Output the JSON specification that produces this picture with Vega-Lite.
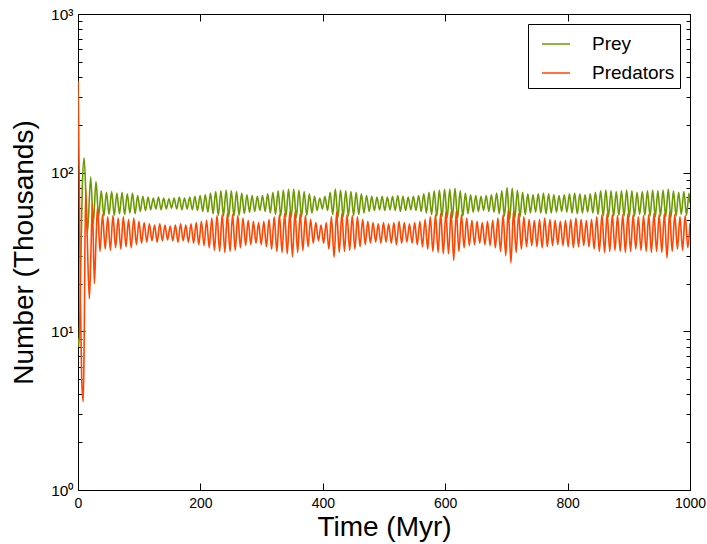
{
  "$schema": "https://vega.github.io/schema/vega-lite/v6.json",
  "width": 612,
  "height": 476,
  "autosize": {"type": "none"},
  "padding": {"left": 78, "top": 14, "right": 17, "bottom": 54},
  "background": "#ffffff",
  "datasets": {
    "prey": [
      {"t":0,"n":9},{"t":1.5,"n":8},{"t":4,"n":20},{"t":7,"n":80},{"t":10,"n":124},{"t":15.5,"n":42},{"t":20.7,"n":94},{"t":25,"n":48},{"t":29.4,"n":88},{"t":33.7,"n":53},
      {"t":38,"n":76.9},{"t":42.25,"n":53.2},{"t":46.5,"n":75.2},{"t":50.75,"n":54.5},{"t":55,"n":76.0},{"t":59.25,"n":53.8},{"t":63.5,"n":74.3},{"t":67.75,"n":55.1},{"t":72,"n":75.2},{"t":76.25,"n":54.5},
      {"t":80.5,"n":73.5},{"t":84.75,"n":55.7},{"t":89,"n":74.3},{"t":93.25,"n":55.1},{"t":97.5,"n":71.8},{"t":101.75,"n":57.0},{"t":106,"n":71.0},{"t":110.25,"n":57.7},{"t":114.5,"n":70.1},{"t":118.75,"n":58.3},
      {"t":123,"n":69.3},{"t":127.25,"n":59.0},{"t":131.5,"n":70.1},{"t":135.75,"n":58.3},{"t":140,"n":69.3},{"t":144.25,"n":59.0},{"t":148.5,"n":68.5},{"t":152.75,"n":59.7},{"t":157,"n":69.3},{"t":161.25,"n":59.0},
      {"t":165.5,"n":70.1},{"t":169.75,"n":58.3},{"t":174,"n":69.3},{"t":178.25,"n":59.0},{"t":182.5,"n":70.1},{"t":186.75,"n":58.3},{"t":191,"n":71.0},{"t":195.25,"n":57.7},{"t":199.5,"n":71.8},{"t":203.75,"n":57.0},
      {"t":208,"n":72.6},{"t":212.25,"n":56.4},{"t":216.5,"n":74.3},{"t":220.75,"n":55.1},{"t":225,"n":76.0},{"t":229.25,"n":53.8},{"t":233.5,"n":76.9},{"t":237.75,"n":53.2},{"t":242,"n":77.8},{"t":246.25,"n":52.6},
      {"t":250.5,"n":76.9},{"t":254.75,"n":53.2},{"t":259,"n":76.0},{"t":263.25,"n":53.8},{"t":267.5,"n":74.3},{"t":271.75,"n":55.1},{"t":276,"n":72.6},{"t":280.25,"n":56.4},{"t":284.5,"n":71.8},{"t":288.75,"n":57.0},
      {"t":293,"n":71.0},{"t":297.25,"n":57.7},{"t":301.5,"n":71.8},{"t":305.75,"n":57.0},{"t":310,"n":73.5},{"t":314.25,"n":55.7},{"t":318.5,"n":75.2},{"t":322.75,"n":54.5},{"t":327,"n":76.9},{"t":331.25,"n":53.2},
      {"t":335.5,"n":77.8},{"t":339.75,"n":52.6},{"t":344,"n":78.7},{"t":348.25,"n":52.0},{"t":352.5,"n":78.7},{"t":356.75,"n":52.0},{"t":361,"n":77.8},{"t":365.25,"n":52.6},{"t":369.5,"n":76.0},{"t":373.75,"n":53.8},
      {"t":378,"n":73.5},{"t":382.25,"n":55.7},{"t":386.5,"n":71.0},{"t":390.75,"n":57.7},{"t":395,"n":69.3},{"t":399.25,"n":59.0},{"t":403.5,"n":71.0},{"t":407.75,"n":57.7},{"t":412,"n":75.2},{"t":416.25,"n":54.5},
      {"t":420.5,"n":78.7},{"t":424.75,"n":52.0},{"t":429,"n":77.8},{"t":433.25,"n":52.6},{"t":437.5,"n":76.9},{"t":441.75,"n":53.2},{"t":446,"n":76.0},{"t":450.25,"n":53.8},{"t":454.5,"n":75.2},{"t":458.75,"n":54.5},
      {"t":463,"n":73.5},{"t":467.25,"n":55.7},{"t":471.5,"n":71.8},{"t":475.75,"n":57.0},{"t":480,"n":71.0},{"t":484.25,"n":57.7},{"t":488.5,"n":70.1},{"t":492.75,"n":58.3},{"t":497,"n":71.0},{"t":501.25,"n":57.7},
      {"t":505.5,"n":70.1},{"t":509.75,"n":58.3},{"t":514,"n":71.0},{"t":518.25,"n":57.7},{"t":522.5,"n":71.8},{"t":526.75,"n":57.0},{"t":531,"n":71.0},{"t":535.25,"n":57.7},{"t":539.5,"n":70.1},{"t":543.75,"n":58.3},
      {"t":548,"n":71.0},{"t":552.25,"n":57.7},{"t":556.5,"n":71.8},{"t":560.75,"n":57.0},{"t":565,"n":73.5},{"t":569.25,"n":55.7},{"t":573.5,"n":75.2},{"t":577.75,"n":54.5},{"t":582,"n":76.9},{"t":586.25,"n":53.2},
      {"t":590.5,"n":77.8},{"t":594.75,"n":52.6},{"t":599,"n":78.7},{"t":603.25,"n":52.0},{"t":607.5,"n":78.7},{"t":611.75,"n":52.0},{"t":616,"n":79.6},{"t":620.25,"n":51.4},{"t":624.5,"n":76.9},{"t":628.75,"n":53.2},
      {"t":633,"n":74.3},{"t":637.25,"n":55.1},{"t":641.5,"n":72.6},{"t":645.75,"n":56.4},{"t":650,"n":71.8},{"t":654.25,"n":57.0},{"t":658.5,"n":71.0},{"t":662.75,"n":57.7},{"t":667,"n":71.8},{"t":671.25,"n":57.0},
      {"t":675.5,"n":72.6},{"t":679.75,"n":56.4},{"t":684,"n":74.3},{"t":688.25,"n":55.1},{"t":692.5,"n":76.9},{"t":696.75,"n":53.2},{"t":701,"n":80.5},{"t":705.25,"n":50.8},{"t":709.5,"n":79.6},{"t":713.75,"n":51.4},
      {"t":718,"n":77.8},{"t":722.25,"n":52.6},{"t":726.5,"n":75.2},{"t":730.75,"n":54.5},{"t":735,"n":73.5},{"t":739.25,"n":55.7},{"t":743.5,"n":72.6},{"t":747.75,"n":56.4},{"t":752,"n":73.5},{"t":756.25,"n":55.7},
      {"t":760.5,"n":74.3},{"t":764.75,"n":55.1},{"t":769,"n":73.5},{"t":773.25,"n":55.7},{"t":777.5,"n":72.6},{"t":781.75,"n":56.4},{"t":786,"n":71.8},{"t":790.25,"n":57.0},{"t":794.5,"n":72.6},{"t":798.75,"n":56.4},
      {"t":803,"n":73.5},{"t":807.25,"n":55.7},{"t":811.5,"n":74.3},{"t":815.75,"n":55.1},{"t":820,"n":73.5},{"t":824.25,"n":55.7},{"t":828.5,"n":72.6},{"t":832.75,"n":56.4},{"t":837,"n":73.5},{"t":841.25,"n":55.7},
      {"t":845.5,"n":75.2},{"t":849.75,"n":54.5},{"t":854,"n":76.9},{"t":858.25,"n":53.2},{"t":862.5,"n":77.8},{"t":866.75,"n":52.6},{"t":871,"n":76.9},{"t":875.25,"n":53.2},{"t":879.5,"n":76.0},{"t":883.75,"n":53.8},
      {"t":888,"n":76.9},{"t":892.25,"n":53.2},{"t":896.5,"n":77.8},{"t":900.75,"n":52.6},{"t":905,"n":76.9},{"t":909.25,"n":53.2},{"t":913.5,"n":75.2},{"t":917.75,"n":54.5},{"t":922,"n":76.0},{"t":926.25,"n":53.8},
      {"t":930.5,"n":76.9},{"t":934.75,"n":53.2},{"t":939,"n":77.8},{"t":943.25,"n":52.6},{"t":947.5,"n":76.9},{"t":951.75,"n":53.2},{"t":956,"n":77.8},{"t":960.25,"n":52.6},{"t":964.5,"n":78.7},{"t":968.75,"n":52.0},
      {"t":973,"n":76.9},{"t":977.25,"n":53.2},{"t":981.5,"n":75.2},{"t":985.75,"n":54.5},{"t":990,"n":76.0},{"t":994.25,"n":53.8},{"t":998.5,"n":74.3},{"t":1000,"n":64}
    ],
    "predators": [
      {"t":0,"n":380},{"t":2,"n":90},{"t":4,"n":15},{"t":6,"n":5},{"t":8.5,"n":3.6},{"t":10,"n":8},{"t":12.5,"n":80},{"t":15,"n":40},{"t":18.5,"n":16},{"t":21,"n":30},{"t":23.5,"n":64},{"t":26.7,"n":20},{"t":29.5,"n":38},{"t":32,"n":61},
      {"t":35.9,"n":31.9},{"t":40.1,"n":54.5},{"t":44.4,"n":33.0},{"t":48.6,"n":52.7},{"t":52.9,"n":32.4},{"t":57.1,"n":53.6},{"t":61.4,"n":33.6},{"t":65.6,"n":51.8},{"t":69.9,"n":33.0},{"t":74.1,"n":52.7},
      {"t":78.4,"n":34.1},{"t":82.6,"n":50.9},{"t":86.9,"n":33.6},{"t":91.1,"n":51.8},{"t":95.4,"n":35.2},{"t":99.6,"n":49.3},{"t":103.9,"n":35.9},{"t":108.1,"n":48.4},{"t":112.4,"n":36.5},{"t":116.6,"n":47.6},
      {"t":120.9,"n":37.2},{"t":125.1,"n":46.8},{"t":129.4,"n":36.5},{"t":133.6,"n":47.6},{"t":137.9,"n":37.2},{"t":142.1,"n":46.8},{"t":146.4,"n":37.7},{"t":150.6,"n":46.1},{"t":154.9,"n":37.2},{"t":159.1,"n":46.8},
      {"t":163.4,"n":36.5},{"t":167.6,"n":47.6},{"t":171.9,"n":37.2},{"t":176.1,"n":46.8},{"t":180.4,"n":36.5},{"t":184.6,"n":47.6},{"t":188.9,"n":35.9},{"t":193.1,"n":48.4},{"t":197.4,"n":35.2},{"t":201.6,"n":49.3},
      {"t":205.9,"n":34.7},{"t":210.1,"n":50.1},{"t":214.4,"n":33.6},{"t":218.6,"n":51.8},{"t":222.9,"n":32.4},{"t":227.1,"n":53.6},{"t":231.4,"n":31.9},{"t":235.6,"n":54.5},{"t":239.9,"n":31.4},{"t":244.1,"n":55.3},
      {"t":248.4,"n":31.9},{"t":252.6,"n":54.5},{"t":256.9,"n":32.4},{"t":261.1,"n":53.6},{"t":265.4,"n":33.6},{"t":269.6,"n":51.8},{"t":273.9,"n":34.7},{"t":278.1,"n":50.1},{"t":282.4,"n":35.2},{"t":286.6,"n":49.3},
      {"t":290.9,"n":35.9},{"t":295.1,"n":48.4},{"t":299.4,"n":35.2},{"t":303.6,"n":49.3},{"t":307.9,"n":34.1},{"t":312.1,"n":50.9},{"t":316.4,"n":33.0},{"t":320.6,"n":52.7},{"t":324.9,"n":31.9},{"t":329.1,"n":54.5},
      {"t":333.4,"n":31.4},{"t":337.6,"n":55.3},{"t":341.9,"n":30.8},{"t":346.1,"n":56.4},{"t":350.4,"n":29.5},{"t":354.6,"n":56.4},{"t":358.9,"n":31.4},{"t":363.1,"n":55.3},{"t":367.4,"n":32.4},{"t":371.6,"n":53.6},
      {"t":375.9,"n":34.1},{"t":380.1,"n":50.9},{"t":384.4,"n":35.9},{"t":388.6,"n":48.4},{"t":392.9,"n":37.2},{"t":397.1,"n":46.8},{"t":401.4,"n":35.9},{"t":405.6,"n":48.4},{"t":409.9,"n":33.0},{"t":414.1,"n":52.7},
      {"t":418.4,"n":29.3},{"t":422.6,"n":56.4},{"t":426.9,"n":31.4},{"t":431.1,"n":55.3},{"t":435.4,"n":31.9},{"t":439.6,"n":54.5},{"t":443.9,"n":32.4},{"t":448.1,"n":53.6},{"t":452.4,"n":33.0},{"t":456.6,"n":52.7},
      {"t":460.9,"n":34.1},{"t":465.1,"n":50.9},{"t":469.4,"n":35.2},{"t":473.6,"n":49.3},{"t":477.9,"n":35.9},{"t":482.1,"n":48.4},{"t":486.4,"n":36.5},{"t":490.6,"n":47.6},{"t":494.9,"n":35.9},{"t":499.1,"n":48.4},
      {"t":503.4,"n":36.5},{"t":507.6,"n":47.6},{"t":511.9,"n":35.9},{"t":516.1,"n":48.4},{"t":520.4,"n":35.2},{"t":524.6,"n":49.3},{"t":528.9,"n":35.9},{"t":533.1,"n":48.4},{"t":537.4,"n":36.5},{"t":541.6,"n":47.6},
      {"t":545.9,"n":35.9},{"t":550.1,"n":48.4},{"t":554.4,"n":35.2},{"t":558.6,"n":49.3},{"t":562.9,"n":34.1},{"t":567.1,"n":50.9},{"t":571.4,"n":33.0},{"t":575.6,"n":52.7},{"t":579.9,"n":31.9},{"t":584.1,"n":54.5},
      {"t":588.4,"n":31.4},{"t":592.6,"n":55.3},{"t":596.9,"n":30.8},{"t":601.1,"n":56.4},{"t":605.4,"n":30.8},{"t":609.6,"n":56.4},{"t":613.9,"n":28.0},{"t":618.1,"n":57.3},{"t":622.4,"n":31.9},{"t":626.6,"n":54.5},
      {"t":630.9,"n":33.6},{"t":635.1,"n":51.8},{"t":639.4,"n":34.7},{"t":643.6,"n":50.1},{"t":647.9,"n":35.2},{"t":652.1,"n":49.3},{"t":656.4,"n":35.9},{"t":660.6,"n":48.4},{"t":664.9,"n":35.2},{"t":669.1,"n":49.3},
      {"t":673.4,"n":34.7},{"t":677.6,"n":50.1},{"t":681.9,"n":33.6},{"t":686.1,"n":51.8},{"t":690.4,"n":31.9},{"t":694.6,"n":54.5},{"t":698.9,"n":29.9},{"t":703.1,"n":58.2},{"t":707.4,"n":27.0},{"t":711.6,"n":57.3},
      {"t":715.9,"n":31.4},{"t":720.1,"n":55.3},{"t":724.4,"n":33.0},{"t":728.6,"n":52.7},{"t":732.9,"n":34.1},{"t":737.1,"n":50.9},{"t":741.4,"n":34.7},{"t":745.6,"n":50.1},{"t":749.9,"n":34.1},{"t":754.1,"n":50.9},
      {"t":758.4,"n":33.6},{"t":762.6,"n":51.8},{"t":766.9,"n":34.1},{"t":771.1,"n":50.9},{"t":775.4,"n":34.7},{"t":779.6,"n":50.1},{"t":783.9,"n":35.2},{"t":788.1,"n":49.3},{"t":792.4,"n":34.7},{"t":796.6,"n":50.1},
      {"t":800.9,"n":34.1},{"t":805.1,"n":50.9},{"t":809.4,"n":33.6},{"t":813.6,"n":51.8},{"t":817.9,"n":34.1},{"t":822.1,"n":50.9},{"t":826.4,"n":34.7},{"t":830.6,"n":50.1},{"t":834.9,"n":34.1},{"t":839.1,"n":50.9},
      {"t":843.4,"n":33.0},{"t":847.6,"n":52.7},{"t":851.9,"n":31.9},{"t":856.1,"n":54.5},{"t":860.4,"n":31.4},{"t":864.6,"n":55.3},{"t":868.9,"n":31.9},{"t":873.1,"n":54.5},{"t":877.4,"n":32.4},{"t":881.6,"n":53.6},
      {"t":885.9,"n":31.9},{"t":890.1,"n":54.5},{"t":894.4,"n":31.4},{"t":898.6,"n":55.3},{"t":902.9,"n":31.9},{"t":907.1,"n":54.5},{"t":911.4,"n":33.0},{"t":915.6,"n":52.7},{"t":919.9,"n":32.4},{"t":924.1,"n":53.6},
      {"t":928.4,"n":31.9},{"t":932.6,"n":54.5},{"t":936.9,"n":31.4},{"t":941.1,"n":55.3},{"t":945.4,"n":31.9},{"t":949.6,"n":54.5},{"t":953.9,"n":31.4},{"t":958.1,"n":55.3},{"t":962.4,"n":29.0},{"t":966.6,"n":56.4},
      {"t":970.9,"n":31.9},{"t":975.1,"n":54.5},{"t":979.4,"n":33.0},{"t":983.6,"n":52.7},{"t":987.9,"n":32.4},{"t":992.1,"n":53.6},{"t":996.4,"n":33.6},{"t":1000,"n":48}
    ]
  },
  "layer": [
    {
      "data": {"name": "prey"},
      "mark": {"type": "line", "strokeWidth": 1.6, "interpolate": "monotone", "clip": true},
      "encoding": {
        "x": {
          "field": "t", "type": "quantitative",
          "scale": {"domain": [0, 1000], "nice": false, "zero": false},
          "axis": {"orient": "bottom", "values": [0, 200, 400, 600, 800, 1000], "format": "d", "labelFlush": false, "tickSize": -7, "labelPadding": 13, "title": "Time (Myr)", "titlePadding": 3}
        },
        "y": {
          "field": "n", "type": "quantitative",
          "scale": {"type": "log", "domain": [1, 1000], "nice": false},
          "axis": {
            "orient": "left", "values": [1, 10, 100, 1000], "tickSize": -7, "labelPadding": 12, "labelFontSize": 15.5, "labelFlush": false,
            "labelExpr": "datum.value === 1 ? '10⁰' : datum.value === 10 ? '10¹' : datum.value === 100 ? '10²' : '10³'",
            "title": "Number (Thousands)", "titlePadding": 12
          }
        },
        "color": {
          "datum": "Prey", "type": "nominal",
          "scale": {"domain": ["Prey", "Predators"], "range": ["#6a9a00", "#ff4500"]},
          "legend": {"title": null}
        }
      }
    },
    {
      "data": {"name": "predators"},
      "mark": {"type": "line", "strokeWidth": 1.6, "interpolate": "monotone", "clip": true},
      "encoding": {
        "x": {
          "field": "t", "type": "quantitative",
          "scale": {"domain": [0, 1000], "nice": false, "zero": false},
          "axis": {"orient": "top", "values": [0, 200, 400, 600, 800, 1000], "tickSize": -7, "labels": false, "title": null}
        },
        "y": {
          "field": "n", "type": "quantitative",
          "scale": {"type": "log", "domain": [1, 1000], "nice": false},
          "axis": {"orient": "right", "values": [1, 10, 100, 1000], "tickSize": -7, "labels": false, "title": null}
        },
        "color": {"datum": "Predators", "type": "nominal"}
      }
    },
    {
      "data": {"name": "prey"},
      "mark": {"type": "point", "opacity": 0},
      "encoding": {
        "x": {"field": "t", "type": "quantitative", "axis": null},
        "y": {
          "field": "n", "type": "quantitative",
          "axis": {"orient": "left", "values": [2,3,4,5,6,7,8,9,20,30,40,50,60,70,80,90,200,300,400,500,600,700,800,900], "tickSize": -4, "labels": false, "title": null}
        }
      }
    },
    {
      "data": {"name": "prey"},
      "mark": {"type": "point", "opacity": 0},
      "encoding": {
        "x": {"field": "t", "type": "quantitative", "axis": null},
        "y": {
          "field": "n", "type": "quantitative",
          "axis": {"orient": "right", "values": [2,3,4,5,6,7,8,9,20,30,40,50,60,70,80,90,200,300,400,500,600,700,800,900], "tickSize": -4, "labels": false, "title": null}
        }
      }
    }
  ],
  "resolve": {"axis": {"x": "independent", "y": "independent"}},
  "config": {
    "font": "Liberation Sans",
    "view": {"stroke": "#000000", "strokeWidth": 1},
    "axis": {
      "domain": false, "grid": false,
      "tickColor": "#000000", "tickWidth": 1,
      "labelColor": "#000000", "labelFont": "Liberation Sans", "labelFontSize": 14,
      "titleColor": "#000000", "titleFont": "Liberation Sans", "titleFontSize": 28, "titleFontWeight": "normal"
    },
    "legend": {
      "orient": "top-right", "offset": 10,
      "labelFont": "Liberation Sans", "labelFontSize": 19, "labelColor": "#000000",
      "symbolType": "stroke", "symbolSize": 784, "symbolStrokeWidth": 1.5,
      "labelOffset": 21, "padding": 5, "rowPadding": 4, "symbolOffset": 8,
      "strokeColor": "#000000", "fillColor": "#ffffff", "cornerRadius": 0
    }
  }
}
